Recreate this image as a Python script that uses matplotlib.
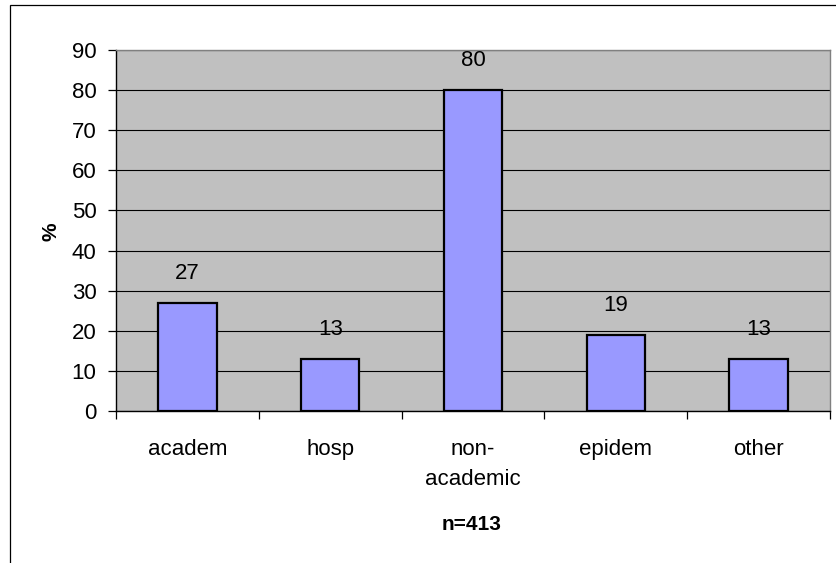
import matplotlib.pyplot as plt
from matplotlib.patches import Rectangle

plt.rcParams['font.family'] = ['Liberation Sans', 'DejaVu Sans']

# Data
categories = ['academ', 'hosp', 'non-\nacademic', 'epidem', 'other']
percent = [27, 13, 80, 19, 13]
y_ticks = list(range(0, 100, 10))

W, H = 836, 563
fig = plt.figure(figsize=(W / 100, H / 100), dpi=100)

# outer chart frame (extends past right/bottom edges like the original)
fig.patches.append(Rectangle((10 / W, -0.1), 1.2, (H - 5) / H + 0.1,
                             transform=fig.transFigure, fill=False,
                             edgecolor='black', linewidth=0.9))

ax = fig.add_axes([116 / W, (H - 411) / H, (830 - 116) / W, (411 - 50) / H])
ax.set_facecolor('#C0C0C0')

x = range(len(categories))
bars = ax.bar(x, percent, width=0.41, color='#9999FF', edgecolor='black',
              linewidth=1.6, zorder=3)

# value labels above the bars
for b, v in zip(bars, percent):
    ax.annotate(str(v), (b.get_x() + b.get_width() / 2, v),
                xytext=(0, 21), textcoords='offset points',
                ha='center', va='center', fontsize=16)

ax.set_xlim(-0.5, len(categories) - 0.5)
ax.set_ylim(0, 90)
ax.set_yticks(y_ticks)
ax.yaxis.grid(True, color='black', linewidth=0.8, zorder=1)
ax.set_axisbelow(True)

# category labels between boundary ticks
ax.set_xticks([i - 0.5 for i in range(len(categories) + 1)])
ax.set_xticklabels([])
ax.set_xticks(list(x), minor=True)
ax.set_xticklabels(categories, minor=True, fontsize=16, linespacing=1.55,
                   va='top')
ax.tick_params(axis='x', which='minor', length=0, pad=20)
ax.tick_params(axis='x', which='major', length=6, width=0.9, direction='out')
ax.tick_params(axis='y', length=6, width=0.9, direction='out', pad=8,
               labelsize=16)

for side in ['left', 'bottom']:
    ax.spines[side].set_color('black')
    ax.spines[side].set_linewidth(1.0)
for side in ['top', 'right']:
    ax.spines[side].set_color('#808080')
    ax.spines[side].set_linewidth(1.0)

fig.text(51 / W, (H - 232) / H, '%', rotation=90, ha='center', va='center',
         fontsize=15, fontweight='bold')
fig.text(472 / W, (H - 524) / H, 'n=413', ha='center', va='center',
         fontsize=15, fontweight='bold')

fig.savefig('out.png', dpi=100)
